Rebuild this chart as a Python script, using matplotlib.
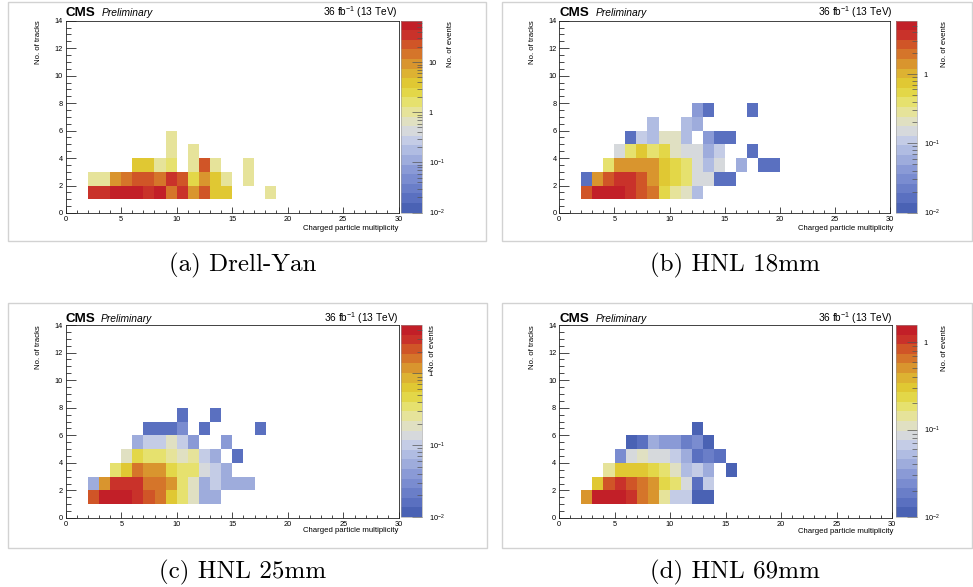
import numpy as np
import matplotlib
matplotlib.use('Agg')
import matplotlib.pyplot as plt
from matplotlib.colors import ListedColormap, LogNorm
from matplotlib.patches import Rectangle
from matplotlib.ticker import FixedLocator, NullFormatter, FixedFormatter, MultipleLocator

plt.rcParams['font.family'] = ['Liberation Sans', 'DejaVu Sans']
plt.rcParams['mathtext.fontset'] = 'custom'
plt.rcParams['mathtext.rm'] = 'Liberation Sans'
plt.rcParams['mathtext.it'] = 'Liberation Sans:italic'
plt.rcParams['mathtext.bf'] = 'Liberation Sans:bold'

# ---------------- data: (charged multiplicity bin, no. of tracks bin, events) ----------------
# (a) Drell-Yan
dy_mult = [2, 3, 4, 5, 6, 7, 8, 9, 10, 11, 12, 13, 14, 18,
           2, 3, 4, 5, 6, 7, 8, 9, 10, 11, 12, 13, 14, 16,
           6, 7, 8, 9, 11, 12, 13, 16,
           9, 11,
           9]
dy_ntrk = [1, 1, 1, 1, 1, 1, 1, 1, 1, 1, 1, 1, 1, 1,
           2, 2, 2, 2, 2, 2, 2, 2, 2, 2, 2, 2, 2, 2,
           3, 3, 3, 3, 3, 3, 3, 3,
           4, 4,
           5]
dy_evts = [35, 35, 54, 54, 54, 35, 54, 14, 35, 9, 22, 4, 4, 1,
           1, 1, 9, 14, 22, 22, 14, 35, 22, 2.5, 9, 4, 1, 1,
           4, 4, 1, 1.6, 1, 22, 1, 1,
           1, 1,
           1]

# (b) HNL 18mm
h18_mult = [2, 3, 4, 5, 6, 7, 8, 9, 10, 11, 12,
            2, 3, 4, 5, 6, 7, 8, 9, 10, 11, 12, 13, 14, 15,
            4, 5, 6, 7, 8, 9, 10, 11, 12, 13, 14, 16, 18, 19,
            5, 6, 7, 8, 9, 10, 11, 12, 13, 14, 17,
            6, 7, 8, 9, 10, 11, 13, 14, 15,
            8, 11, 12,
            12, 13, 17]
h18_ntrk = [1, 1, 1, 1, 1, 1, 1, 1, 1, 1, 1,
            2, 2, 2, 2, 2, 2, 2, 2, 2, 2, 2, 2, 2, 2,
            3, 3, 3, 3, 3, 3, 3, 3, 3, 3, 3, 3, 3, 3,
            4, 4, 4, 4, 4, 4, 4, 4, 4, 4, 4,
            5, 5, 5, 5, 5, 5, 5, 5, 5,
            6, 6, 6,
            7, 7, 7]
h18_evts = [2.6, 5.0, 5.0, 5.0, 3.6, 2.6, 1.9, 0.53, 0.32, 0.2, 0.076,
            0.015, 1.38, 2.6, 3.6, 3.6, 2.6, 1.38, 0.73, 0.53, 0.38, 0.145, 0.145, 0.015, 0.015,
            0.38, 1.38, 1.38, 1.38, 1.3, 0.73, 0.53, 0.38, 0.145, 0.076, 0.145, 0.055, 0.015, 0.015,
            0.145, 0.38, 0.73, 0.38, 0.53, 0.2, 0.145, 0.145, 0.055, 0.105, 0.015,
            0.015, 0.105, 0.076, 0.2, 0.2, 0.076, 0.04, 0.015, 0.015,
            0.076, 0.076, 0.055,
            0.04, 0.015, 0.015]

# (c) HNL 25mm
h25_mult = [2, 3, 4, 5, 6, 7, 8, 9, 10, 11, 12, 13,
            2, 3, 4, 5, 6, 7, 8, 9, 10, 11, 12, 13, 14, 15, 16,
            4, 5, 6, 7, 8, 9, 10, 11, 12, 13, 14,
            5, 6, 7, 8, 9, 10, 11, 12, 13, 15,
            6, 7, 8, 9, 10, 11, 14,
            7, 8, 9, 10, 12, 17,
            10, 13]
h25_ntrk = [1, 1, 1, 1, 1, 1, 1, 1, 1, 1, 1, 1,
            2, 2, 2, 2, 2, 2, 2, 2, 2, 2, 2, 2, 2, 2, 2,
            3, 3, 3, 3, 3, 3, 3, 3, 3, 3, 3,
            4, 4, 4, 4, 4, 4, 4, 4, 4, 4,
            5, 5, 5, 5, 5, 5, 5,
            6, 6, 6, 6, 6, 6,
            7, 7]
h25_evts = [2.2, 4.0, 4.0, 4.0, 2.96, 2.2, 1.6, 0.64, 0.3, 0.185, 0.054, 0.054,
            0.054, 1.18, 2.96, 2.96, 2.96, 1.6, 1.6, 1.18, 0.35, 0.185, 0.054, 0.1, 0.047, 0.047, 0.047,
            0.35, 0.64, 1.6, 1.18, 1.18, 0.47, 0.35, 0.35, 0.137, 0.1, 0.054,
            0.185, 0.47, 0.35, 0.35, 0.25, 0.185, 0.25, 0.1, 0.054, 0.016,
            0.054, 0.1, 0.1, 0.16, 0.1, 0.04, 0.04,
            0.016, 0.016, 0.016, 0.03, 0.016, 0.016,
            0.016, 0.016]

# (d) HNL 69mm
h69_mult = [2, 3, 4, 5, 6, 7, 8, 9, 10, 11, 12, 13,
            3, 4, 5, 6, 7, 8, 9, 10, 11, 12, 13,
            4, 5, 6, 7, 8, 9, 10, 11, 12, 13, 15,
            5, 6, 7, 8, 9, 10, 11, 12, 13, 14,
            6, 7, 8, 9, 10, 11, 12, 13,
            12]
h69_ntrk = [1, 1, 1, 1, 1, 1, 1, 1, 1, 1, 1, 1,
            2, 2, 2, 2, 2, 2, 2, 2, 2, 2, 2,
            3, 3, 3, 3, 3, 3, 3, 3, 3, 3, 3,
            4, 4, 4, 4, 4, 4, 4, 4, 4, 4,
            5, 5, 5, 5, 5, 5, 5, 5,
            6]
h69_evts = [0.5, 1.4, 1.4, 1.4, 1.08, 0.65, 0.5, 0.14, 0.066, 0.066, 0.0113, 0.0113,
            0.3, 0.84, 1.08, 0.84, 0.65, 0.5, 0.24, 0.18, 0.085, 0.0145, 0.06,
            0.14, 0.3, 0.3, 0.3, 0.24, 0.18, 0.11, 0.051, 0.066, 0.04, 0.0113,
            0.024, 0.085, 0.11, 0.085, 0.085, 0.066, 0.04, 0.0145, 0.019, 0.0145,
            0.0113, 0.0145, 0.04, 0.031, 0.031, 0.019, 0.024, 0.0113,
            0.0113]

z_min = 0.01
z_max = [68, 5.9, 4.7, 1.57]
captions = ["(a) Drell-Yan", "(b) HNL 18mm", "(c) HNL 25mm", "(d) HNL 69mm"]
x_ticks = [0, 5, 10, 15, 20, 25, 30]
y_ticks = [0, 2, 4, 6, 8, 10, 12, 14]
x_title = "Charged particle multiplicity"
y_title = "No. of tracks"
z_title = "No. of events"

palette = ['#4a62b4', '#5a70c0', '#6a7ec8', '#7a8cd0', '#8a9ad6', '#9eacdc',
           '#b0bce2', '#c4cce6', '#d6d9dc', '#e0e0c2', '#e6e39a', '#e6e16e',
           '#e3d748', '#e0c833', '#ddb232', '#d9952e', '#d5752a', '#d05527',
           '#c9322a', '#c21f28']

# ---------------- layout (pixels) ----------------
W, H = 973, 587
layout = [
    dict(frame=(65.7, 20.7, 398.5, 213), cbar=(401, 20.7, 422.3, 212.5), border=(8, 2, 486, 241),
         ytx=39, ztx=450, xtr=398, xty=228, base=16.5, cms=66, pre=102, lumi=398, cap=(243, 265)),
    dict(frame=(559.3, 20.7, 890, 213), cbar=(896, 20.7, 917.3, 212.5), border=(502, 2, 972, 241),
         ytx=532, ztx=944, xtr=893, xty=228, base=16.5, cms=560, pre=596, lumi=893, cap=(735, 265)),
    dict(frame=(65.7, 325, 399, 518), cbar=(401, 325, 422.3, 517), border=(8, 303, 487, 548),
         ytx=38.5, ztx=432, xtr=398, xty=531, base=322.5, cms=66, pre=101, lumi=399, cap=(243, 572)),
    dict(frame=(559, 325, 892, 518), cbar=(896, 325, 917.3, 517), border=(502, 303, 972, 548),
         ytx=532, ztx=945, xtr=893, xty=531.5, base=322.5, cms=559, pre=596, lumi=893, cap=(735, 572)),
]
datasets = [(dy_mult, dy_ntrk, dy_evts), (h18_mult, h18_ntrk, h18_evts),
            (h25_mult, h25_ntrk, h25_evts), (h69_mult, h69_ntrk, h69_evts)]

fig = plt.figure(figsize=(W / 100, H / 100), dpi=100)


def rect(x0, y0, x1, y1):
    return [x0 / W, 1 - y1 / H, (x1 - x0) / W, (y1 - y0) / H]


def ftxt(x, y, s, **kw):
    return fig.text(x / W, 1 - y / H, s, **kw)


cmap = ListedColormap(palette)
cmap.set_bad((1, 1, 1, 0))
tick_fs = 5.3
title_fs = 5.6

for i, (lay, (mx, nt, ev)) in enumerate(zip(layout, datasets)):
    # panel border
    bx0, by0, bx1, by1 = lay['border']
    fig.patches.append(Rectangle((bx0 / W, 1 - by1 / H), (bx1 - bx0) / W, (by1 - by0) / H,
                                 transform=fig.transFigure, fill=False, ec='#d2d2d2', lw=1.0))

    ax = fig.add_axes(rect(*lay['frame']))
    hist, xe, ye = np.histogram2d(mx, nt, bins=[np.arange(0, 31), np.arange(0, 15)], weights=ev)
    hm = np.ma.masked_where(hist <= 0, hist)
    norm = LogNorm(vmin=z_min, vmax=z_max[i])
    mesh = ax.pcolormesh(xe, ye, hm.T, cmap=cmap, norm=norm, antialiased=False, linewidth=0)
    ax.set_xlim(0, 30)
    ax.set_ylim(0, 14)
    ax.xaxis.set_major_locator(FixedLocator(x_ticks))
    ax.xaxis.set_minor_locator(MultipleLocator(1))
    ax.yaxis.set_major_locator(FixedLocator(y_ticks))
    ax.yaxis.set_minor_locator(MultipleLocator(0.5))
    ax.tick_params(axis='x', which='major', direction='in', length=4.2, width=0.5, labelsize=tick_fs, pad=2)
    ax.tick_params(axis='x', which='minor', direction='in', length=2.1, width=0.5)
    ax.tick_params(axis='y', which='major', direction='in', length=7.2, width=0.5, labelsize=tick_fs, pad=2)
    ax.tick_params(axis='y', which='minor', direction='in', length=3.6, width=0.5)
    for sp in ax.spines.values():
        sp.set_linewidth(0.6)
        sp.set_color('#222222')

    # colorbar
    cax = fig.add_axes(rect(*lay['cbar']))
    cb = fig.colorbar(mesh, cax=cax)
    cb.outline.set_linewidth(0.4)
    cb.outline.set_edgecolor('#999999')
    majors = [v for v in [0.01, 0.1, 1, 10, 100] if v <= z_max[i] * 1.0001]
    labels = {0.01: '$10^{-2}$', 0.1: '$10^{-1}$', 1: '1', 10: '10', 100: '100'}
    minors = [k * d for d in [0.01, 0.1, 1, 10] for k in range(2, 10) if k * d <= z_max[i]]
    cax.yaxis.set_major_locator(FixedLocator(majors))
    cax.yaxis.set_major_formatter(FixedFormatter([labels[v] for v in majors]))
    cax.yaxis.set_minor_locator(FixedLocator(minors))
    cax.yaxis.set_minor_formatter(NullFormatter())
    cax.tick_params(axis='y', which='major', direction='in', length=7, width=0.5, color='#555555',
                    labelsize=tick_fs, pad=4.5, right=True, left=False)
    cax.tick_params(axis='y', which='minor', direction='in', length=3.5, width=0.5, color='#555555',
                    right=True, left=False)

    # titles
    fx0, fy0, fx1, fy1 = lay['frame']
    ftxt(lay['ytx'], fy0, y_title, rotation=90, ha='center', va='top', fontsize=title_fs)
    ftxt(lay['ztx'], fy0, z_title, rotation=90, ha='center', va='top', fontsize=title_fs)
    ftxt(lay['xtr'], lay['xty'], x_title, ha='right', va='center', fontsize=title_fs)
    ftxt(lay['cms'], lay['base'], 'CMS', ha='left', va='baseline', fontsize=9.6, fontweight='bold')
    ftxt(lay['pre'], lay['base'], 'Preliminary', ha='left', va='baseline', fontsize=7.4, fontstyle='italic')
    ftxt(lay['lumi'], lay['base'], '36 fb$^{-1}$ (13 TeV)', ha='right', va='baseline', fontsize=7.3)
    ftxt(lay['cap'][0], lay['cap'][1], captions[i], ha='center', va='center', fontsize=18,
         family=['cmr10', 'DejaVu Serif'])

fig.savefig('out.png', dpi=100)
